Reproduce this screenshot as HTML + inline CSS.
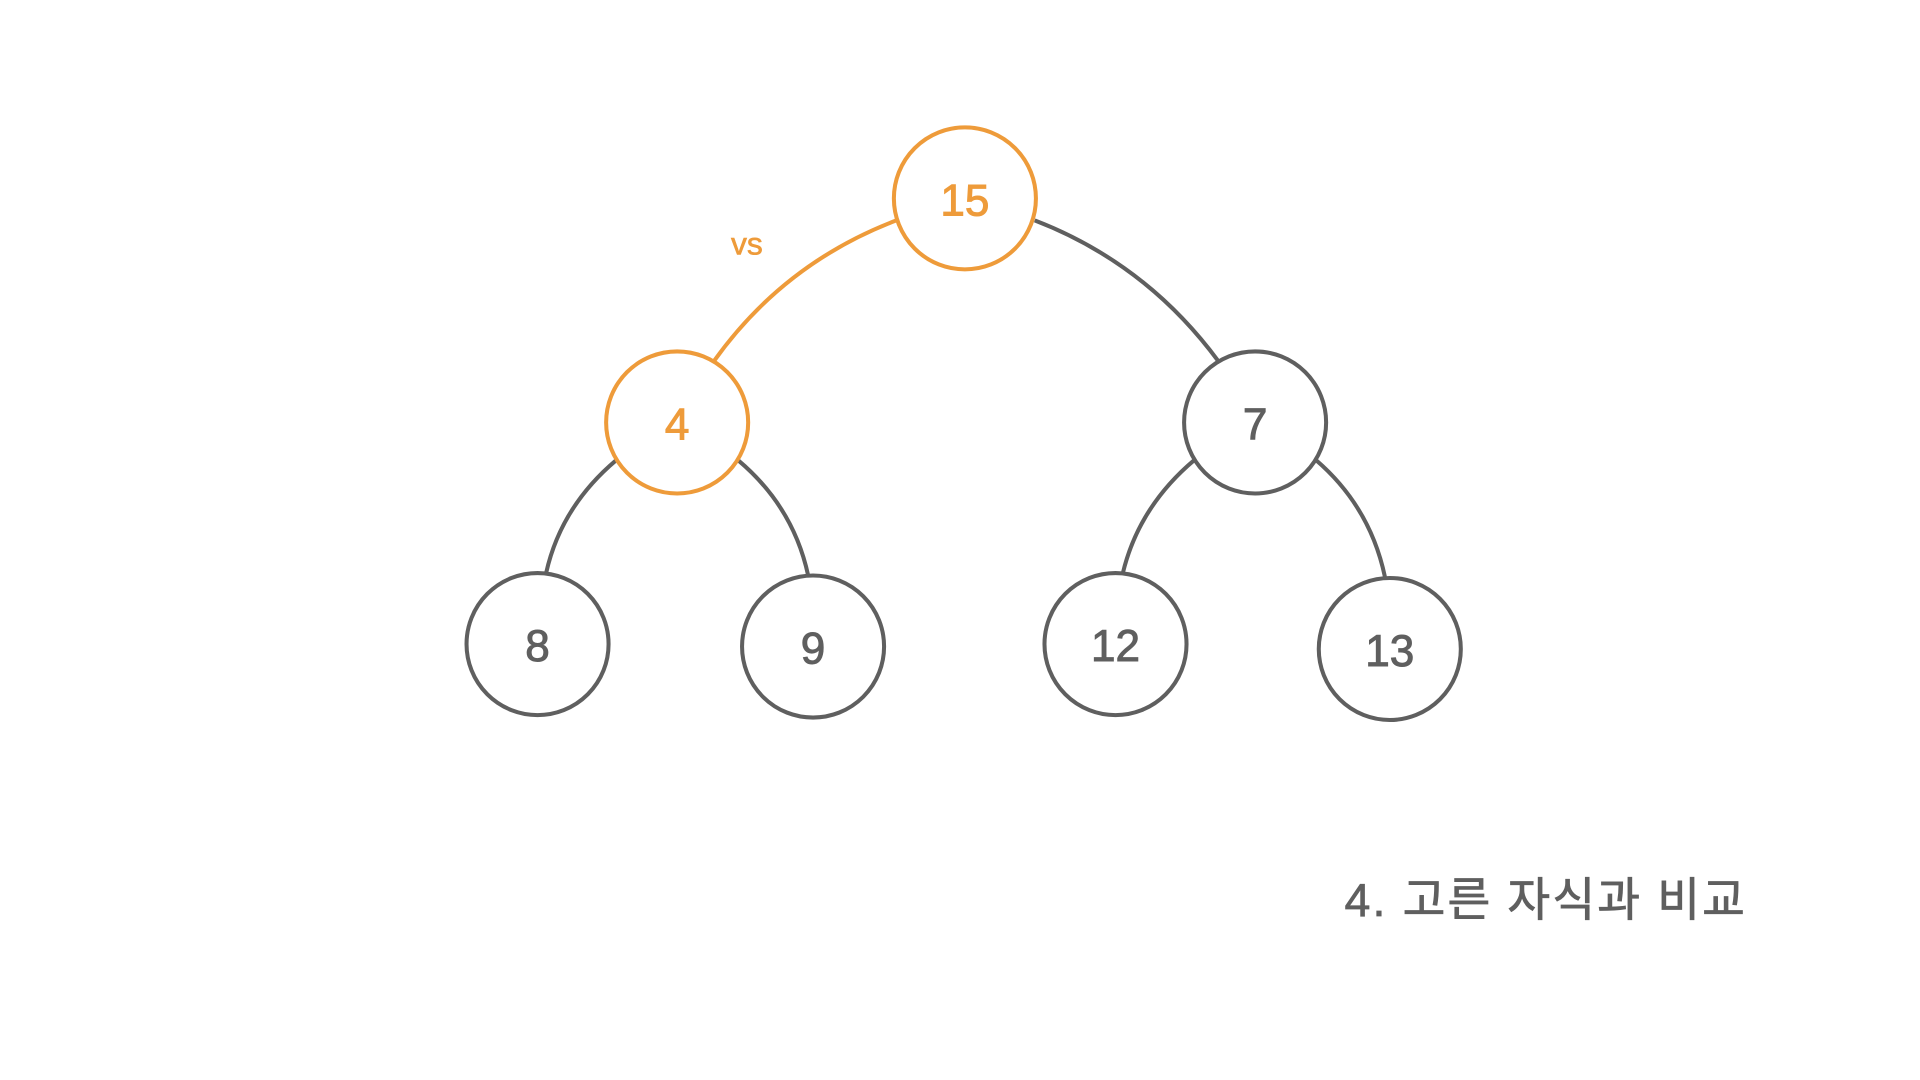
<!DOCTYPE html>
<html><head><meta charset="utf-8"><style>html,body{margin:0;padding:0;background:#fff;width:1920px;height:1080px;overflow:hidden}svg{display:block}</style></head>
<body>
<svg width="1920" height="1080" viewBox="0 0 1568 882" xmlns="http://www.w3.org/2000/svg" font-family="Liberation Sans, 'Noto Sans CJK KR', sans-serif">
<g fill="none" stroke-width="3.3">
<path d="M732,180 Q640,215 583,295" stroke="#EE9B3A"/>
<path d="M845,180 Q936,215 995,295" stroke="#5f5f5f"/>
<path d="M503,376 Q458,414 446,468" stroke="#5f5f5f"/>
<path d="M603,376 Q648,414 660,470" stroke="#5f5f5f"/>
<path d="M975,376 Q930,414 917,468" stroke="#5f5f5f"/>
<path d="M1075,376 Q1119,414 1131,471" stroke="#5f5f5f"/>
<circle cx="788" cy="162" r="58" stroke="#EE9B3A"/>
<circle cx="553" cy="345" r="58" stroke="#EE9B3A"/>
<circle cx="1025" cy="345" r="58" stroke="#5f5f5f"/>
<circle cx="439" cy="526" r="58" stroke="#5f5f5f"/>
<circle cx="664" cy="528" r="58" stroke="#5f5f5f"/>
<circle cx="911" cy="526" r="58" stroke="#5f5f5f"/>
<circle cx="1135" cy="530" r="58" stroke="#5f5f5f"/>
</g>
<g font-size="36" text-anchor="middle" stroke-width="0.8">
<text x="788" y="176" fill="#EE9B3A" stroke="#EE9B3A">15</text>
<text x="553" y="359" fill="#EE9B3A" stroke="#EE9B3A">4</text>
<text x="1025" y="359" fill="#5f5f5f" stroke="#5f5f5f">7</text>
<text x="439" y="540" fill="#5f5f5f" stroke="#5f5f5f">8</text>
<text x="664" y="542" fill="#5f5f5f" stroke="#5f5f5f">9</text>
<text x="911" y="540" fill="#5f5f5f" stroke="#5f5f5f">12</text>
<text x="1135" y="544" fill="#5f5f5f" stroke="#5f5f5f">13</text>
</g>
<text x="610" y="208" font-size="26" text-anchor="middle" fill="#EE9B3A" stroke="#EE9B3A" stroke-width="0.5">vs</text>
<text x="1425" y="748" font-size="38" text-anchor="end" fill="#5f5f5f" stroke="#5f5f5f" stroke-width="0.6" textLength="327">4. 고른 자식과 비교</text>
</svg>
</body></html>
